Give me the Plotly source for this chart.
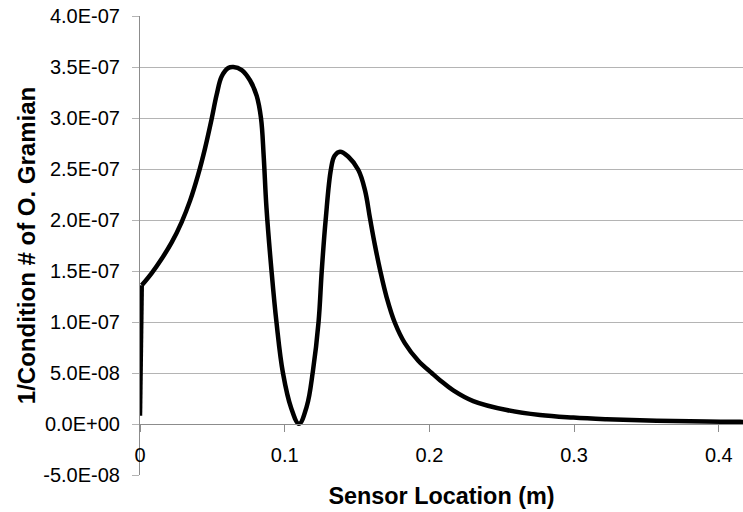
import plotly.graph_objects as go

# Sensor location (m)
sensor_location = [
    0.0, 0.0012, 0.0081, 0.0150, 0.0219, 0.0288, 0.0346, 0.0403, 0.0449, 0.0495,
    0.0530, 0.0565, 0.0610, 0.0645, 0.0703, 0.0760, 0.0806, 0.0836, 0.0855, 0.0874,
    0.0909, 0.0943, 0.0988, 0.1044, 0.1099, 0.1152, 0.1195, 0.1234, 0.1256, 0.1283,
    0.1320, 0.1345, 0.1382, 0.1440, 0.1509, 0.1555, 0.1589, 0.1624, 0.1659, 0.1705,
    0.1762, 0.1831, 0.1923, 0.2016, 0.2073, 0.2165, 0.2303, 0.2534, 0.2764, 0.2995,
    0.3225, 0.3455, 0.3686, 0.3916, 0.4146, 0.4500,
]
# 1/Condition number of observability Gramian
inv_condition = [
    0.08e-7, 1.36e-7, 1.48e-7, 1.62e-7, 1.78e-7, 1.98e-7, 2.19e-7, 2.45e-7, 2.70e-7, 2.99e-7,
    3.23e-7, 3.41e-7, 3.49e-7, 3.50e-7, 3.47e-7, 3.37e-7, 3.22e-7, 3.00e-7, 2.62e-7, 2.12e-7,
    1.50e-7, 1.00e-7, 0.50e-7, 0.16e-7, 0.002e-7, 0.17e-7, 0.52e-7, 1.00e-7, 1.50e-7, 2.00e-7,
    2.50e-7, 2.63e-7, 2.67e-7, 2.62e-7, 2.49e-7, 2.29e-7, 2.02e-7, 1.75e-7, 1.51e-7, 1.24e-7,
    0.99e-7, 0.79e-7, 0.62e-7, 0.50e-7, 0.43e-7, 0.33e-7, 0.225e-7, 0.137e-7, 0.088e-7, 0.063e-7,
    0.047e-7, 0.036e-7, 0.029e-7, 0.024e-7, 0.021e-7, 0.018e-7,
]

y_tick_values = [-5e-8, 0, 5e-8, 1e-7, 1.5e-7, 2e-7, 2.5e-7, 3e-7, 3.5e-7, 4e-7]
y_tick_labels = ["-5.0E-08", "0.0E+00", "5.0E-08", "1.0E-07", "1.5E-07",
                 "2.0E-07", "2.5E-07", "3.0E-07", "3.5E-07", "4.0E-07"]
x_tick_values = [0, 0.1, 0.2, 0.3, 0.4]
x_tick_labels = ["0", "0.1", "0.2", "0.3", "0.4"]

FONT = "Liberation Sans"
GRID = "#b4b4b4"
AXIS = "#8c8c8c"
LINE_W = 4.5

y_min, y_max = -5e-8, 4e-7

fig = go.Figure()
# initial jump at x=0 (straight)
fig.add_trace(go.Scatter(
    x=sensor_location[:2], y=inv_condition[:2], mode="lines",
    line=dict(color="black", width=LINE_W),
    showlegend=False, hoverinfo="skip",
))
# smooth curve
fig.add_trace(go.Scatter(
    x=sensor_location[1:], y=inv_condition[1:], mode="lines",
    line=dict(color="black", width=LINE_W, shape="spline", smoothing=1.1),
    showlegend=False, hoverinfo="skip",
))

fig.update_layout(
    width=743, height=512,
    margin=dict(l=140, r=0, t=16, b=37),
    paper_bgcolor="white", plot_bgcolor="white",
    font=dict(family=FONT, color="black"),
    xaxis=dict(
        range=[0, 603 / 1447], anchor="free",
        position=(0 - y_min) / (y_max - y_min),
        tickvals=x_tick_values, ticktext=x_tick_labels,
        showgrid=False, zeroline=False,
        showline=True, linecolor=AXIS, linewidth=1,
        ticks="outside", ticklen=7, tickcolor=AXIS, tickwidth=1,
        tickfont=dict(size=20, family=FONT),
        ticklabelstandoff=6,
        title=dict(text="<b>Sensor Location (m)</b>", font=dict(size=23.4, family=FONT),
                   standoff=22),
    ),
    yaxis=dict(
        range=[y_min, y_max],
        tickvals=y_tick_values, ticktext=y_tick_labels,
        showgrid=True, gridcolor=GRID, gridwidth=1, zeroline=False,
        showline=True, linecolor=AXIS, linewidth=1,
        ticks="outside", ticklen=7, tickcolor=GRID, tickwidth=1,
        tickfont=dict(size=20, family=FONT),
        ticklabelstandoff=8,
        title=dict(text="<b>1/Condition # of O. Gramian</b>", font=dict(size=24, family=FONT),
                   standoff=0),
    ),
)

fig.write_html("out.html")
